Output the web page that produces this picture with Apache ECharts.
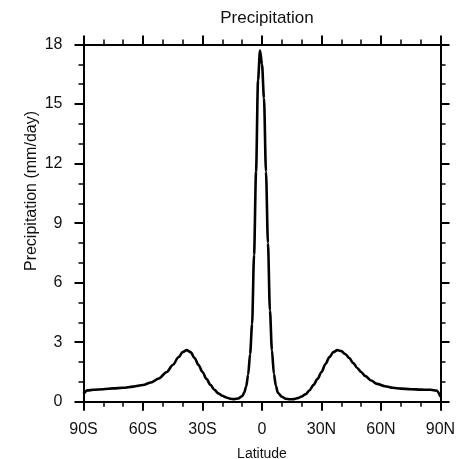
<!DOCTYPE html>
<html>
<head>
<meta charset="utf-8">
<script src="https://cdn.jsdelivr.net/npm/echarts@6/dist/echarts.min.js"></script>
<style>html,body{margin:0;padding:0;background:#fff}#c{width:462px;height:459px}</style>
</head>
<body>
<div id="c"></div>
<script>
var chartTitle = 'Precipitation';
var xTitle = 'Latitude';
var yTitle = 'Precipitation (mm/day)';
var latitudes = [-90,-88,-85,-80,-75,-70,-65,-60,-56,-52,-48,-45,-42,-40,-38,-36,-34,-32,-30,-28,-26,-24,-22,-20,-18,-16,-14,-12,-10,-9,-8,-7,-6,-5,-4,-3,-2,-1,0,1,2,3,4,5,6,7,8,10,12,14,16,18,20,22,24,26,28,30,32,34,36,38,40,42,44,46,48,50,52,55,58,62,66,70,75,80,85,88,90];
var precip = [0.4,0.57,0.6,0.63,0.67,0.7,0.76,0.84,0.97,1.17,1.5,1.85,2.25,2.5,2.6,2.5,2.2,1.85,1.5,1.15,0.85,0.6,0.42,0.3,0.21,0.15,0.13,0.16,0.28,0.45,0.75,1.35,2.4,3.9,7.4,11.6,16.2,17.7,17.0,15.3,11.6,8.0,4.6,2.6,1.4,0.8,0.45,0.25,0.15,0.12,0.13,0.18,0.26,0.38,0.58,0.85,1.15,1.5,1.9,2.25,2.5,2.6,2.55,2.4,2.2,1.95,1.7,1.5,1.3,1.07,0.9,0.78,0.7,0.66,0.63,0.61,0.6,0.56,0.25];
var xTickLabels = {'-90':'90S','-60':'60S','-30':'30S','0':'0','30':'30N','60':'60N','90':'90N'};

var font = 'Liberation Sans, Arial, Helvetica, sans-serif';
var data = latitudes.map(function(l,i){return [l, precip[i]];});
var axisBase = {
  axisLine:{show:true,onZero:false,lineStyle:{color:'#000',width:2}},
  axisTick:{show:true,inside:false,length:9,lineStyle:{color:'#000',width:2}},
  minorTick:{show:true,splitNumber:3,length:5,lineStyle:{color:'#000',width:1.5}},
  splitLine:{show:false}
};
function ax(extra){return Object.assign({}, JSON.parse(JSON.stringify(axisBase)), extra);}
var chart = echarts.init(document.getElementById('c'), null, {renderer:'canvas'});
chart.setOption({
  backgroundColor:'#fff',
  animation:false,
  title:{text:chartTitle,left:262,top:5,textAlign:'center',textStyle:{fontFamily:font,fontSize:17,fontWeight:'normal',color:'#111'}},
  grid:{left:83.5,right:21.5,top:44.5,bottom:57.3,containLabel:false,outerBoundsMode:'none'},
  xAxis:[
    ax({type:'value',min:-90,max:90,interval:30,position:'bottom',
      axisLabel:{show:true,margin:20,fontFamily:font,fontSize:16,color:'#111',formatter:function(v){return xTickLabels[String(v)];}},
      name:xTitle,nameLocation:'middle',nameGap:45,nameTextStyle:{fontFamily:font,fontSize:14,color:'#111'}}),
    ax({type:'value',min:-90,max:90,interval:30,position:'top',axisLabel:{show:false}})
  ],
  yAxis:[
    ax({type:'value',min:0,max:18,interval:3,position:'left',
      axisLabel:{show:true,margin:21,fontFamily:font,fontSize:16,color:'#111'}}),
    ax({type:'value',min:0,max:18,interval:3,position:'right',axisLabel:{show:false}})
  ],
  graphic:[{type:'text',rotation:Math.PI/2,x:32,y:191,
    style:{text:yTitle,fontFamily:font,fontSize:16,fill:'#111',textAlign:'center',textVerticalAlign:'middle'}}],
  series:[{type:'line',xAxisIndex:0,yAxisIndex:0,data:data,showSymbol:false,smooth:0.3,smoothMonotone:'x',
    lineStyle:{color:'#000',width:2.6},clip:true}]
});
</script>
</body>
</html>
